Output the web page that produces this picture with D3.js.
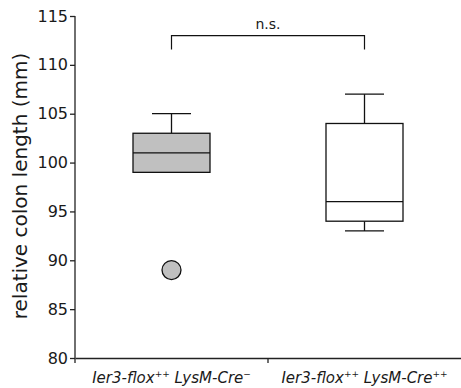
<!DOCTYPE html>
<html>
<head>
<meta charset="utf-8">
<script src="https://cdn.jsdelivr.net/npm/d3@7"></script>
<style>
  body { margin: 0; background: #fff; }
  text { font-family: "DejaVu Sans", sans-serif; fill: #1a1a1a; }
</style>
</head>
<body>
<div id="chart"></div>
<script>
var svgWidth = 461;
var svgHeight = 388;

// box stats
var groups = ["Ier3-flox++ LysM-Cre\u2212", "Ier3-flox++ LysM-Cre++"];
var whiskLow = [99, 93];
var q1 = [99, 94];
var median = [101, 96];
var q3 = [103, 104];
var whiskHigh = [105, 107];
var outliers = [[89], []];
var fills = ["#c0c0c0", "#ffffff"];
var yTicks = [80, 85, 90, 95, 100, 105, 110, 115];
var sigLabel = "n.s.";
var sigLevel = 113;

var margin = { top: 16, right: 0, bottom: 30, left: 75 };
var width = svgWidth - margin.left - margin.right;
var height = svgHeight - margin.top - margin.bottom;

var svg = d3.select("#chart").append("svg")
  .attr("width", svgWidth)
  .attr("height", svgHeight);

var chartGroup = svg.append("g")
  .attr("transform", `translate(${margin.left}, ${margin.top})`);

var x = d3.scaleBand().domain(groups).range([0, width]).padding(0);
var y = d3.scaleLinear().domain([80, 115]).range([height, 0]);

var boxW = 77;
var capW = 39;

var data = groups.map((g, i) => ({
  name: g, lo: whiskLow[i], q1: q1[i], med: median[i], q3: q3[i], hi: whiskHigh[i],
  out: outliers[i], fill: fills[i]
}));

var boxes = chartGroup.selectAll(".box").data(data).enter().append("g")
  .attr("class", "box")
  .attr("transform", d => `translate(${x(d.name) + x.bandwidth() / 2}, 0)`);

// whiskers
boxes.append("line").attr("x1", 0).attr("x2", 0)
  .attr("y1", d => y(d.hi)).attr("y2", d => y(d.q3))
  .attr("stroke", "#111").attr("stroke-width", 1.3);
boxes.append("line").attr("x1", 0).attr("x2", 0)
  .attr("y1", d => y(d.lo)).attr("y2", d => y(d.q1))
  .attr("stroke", "#111").attr("stroke-width", 1.3);
boxes.append("line").attr("x1", -capW / 2).attr("x2", capW / 2)
  .attr("y1", d => y(d.hi)).attr("y2", d => y(d.hi))
  .attr("stroke", "#111").attr("stroke-width", 1.3);
boxes.append("line").attr("x1", -capW / 2).attr("x2", capW / 2)
  .attr("y1", d => y(d.lo)).attr("y2", d => y(d.lo))
  .attr("stroke", "#111").attr("stroke-width", 1.3);

boxes.append("rect")
  .attr("x", -boxW / 2).attr("width", boxW)
  .attr("y", d => y(d.q3)).attr("height", d => y(d.q1) - y(d.q3))
  .attr("fill", d => d.fill).attr("stroke", "#111").attr("stroke-width", 1.3);

boxes.append("line").attr("x1", -boxW / 2).attr("x2", boxW / 2)
  .attr("y1", d => y(d.med)).attr("y2", d => y(d.med))
  .attr("stroke", "#111").attr("stroke-width", 1.3);

boxes.selectAll("circle").data(d => d.out.map(v => ({ v: v }))).enter()
  .append("circle")
  .attr("cx", 0).attr("cy", d => y(d.v)).attr("r", 9.5)
  .attr("fill", "#c0c0c0").attr("stroke", "#111").attr("stroke-width", 1.3);

// significance bracket
var xa = x(groups[0]) + x.bandwidth() / 2;
var xb = x(groups[1]) + x.bandwidth() / 2;
var drop = y(sigLevel) + 14;
chartGroup.append("path")
  .attr("d", `M${xa},${drop}V${y(sigLevel)}H${xb}V${drop}`)
  .attr("fill", "none").attr("stroke", "#111").attr("stroke-width", 1.2);
chartGroup.append("text")
  .attr("x", (xa + xb) / 2).attr("y", y(sigLevel) - 7)
  .attr("text-anchor", "middle").attr("font-size", "14px")
  .text(sigLabel);

// axes
var yAxis = d3.axisLeft(y).tickValues(yTicks).tickSize(5).tickPadding(2).tickSizeOuter(0);
var yg = chartGroup.append("g").call(yAxis);
yg.selectAll("text").attr("font-size", "16px").style("font-family", "DejaVu Sans");
yg.selectAll("line").attr("stroke", "#222").attr("stroke-width", 1.3);
// spine runs a little past the bottom axis
yg.select("path").attr("d", `M0,${y(115)}V${height + 5}`)
  .attr("stroke", "#222").attr("stroke-width", 1.3);

var xAxis = d3.axisBottom(x).tickSize(0).tickSizeOuter(0).tickFormat("");
var xg = chartGroup.append("g").attr("transform", `translate(0, ${height})`).call(xAxis);
xg.select("path").attr("stroke", "#222").attr("stroke-width", 1.3);
xg.selectAll(".tick").remove();
// boundary tick between the groups
xg.append("line").attr("x1", x(groups[1])).attr("x2", x(groups[1]))
  .attr("y1", 0).attr("y2", 5).attr("stroke", "#222").attr("stroke-width", 1.3);

// x labels with superscripts
var labels = xg.selectAll(".xlab").data(groups).enter().append("text")
  .attr("class", "xlab")
  .attr("x", d => x(d) + x.bandwidth() / 2)
  .attr("y", 25)
  .attr("text-anchor", "middle")
  .attr("font-size", "15px")
  .attr("font-style", "italic");
labels.each(function(d) {
  var t = d3.select(this);
  var m = d.match(/^(Ier3-flox)(\+\+) (LysM-Cre)(.*)$/);
  t.append("tspan").text(m[1]);
  t.append("tspan").attr("dy", -6).attr("font-size", "9px").text(m[2]);
  t.append("tspan").attr("dy", 6).text(" " + m[3]);
  t.append("tspan").attr("dy", -6).attr("font-size", "9px").text(m[4]);
});

chartGroup.append("text")
  .attr("transform", "rotate(-90)")
  .attr("x", -(186 - margin.top))
  .attr("y", -margin.left + 27)
  .attr("text-anchor", "middle")
  .attr("font-size", "20px")
  .text("relative colon length (mm)");
</script>
</body>
</html>
